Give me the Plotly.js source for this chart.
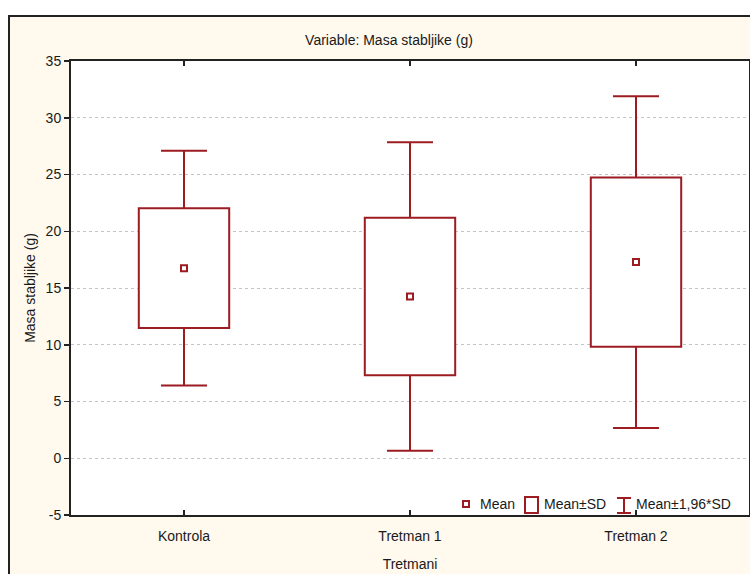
<!DOCTYPE html>
<html>
<head>
<meta charset="utf-8">
<script src="https://cdn.plot.ly/plotly-3.0.1.min.js"></script>
<style>
  html, body { margin: 0; padding: 0; background: #ffffff; width: 750px; height: 574px; overflow: hidden; }
  #frame { position: absolute; left: 8px; top: 15px; width: 760px; height: 580px;
           background: #fff9ee; border-left: 2px solid #222; border-top: 2px solid #222; }
  #chart { position: absolute; left: 0; top: 0; width: 750px; height: 574px; }
</style>
</head>
<body>
<div id="frame"></div>
<div id="chart"></div>
<script>
// ---- data ----
const categories = ["Kontrola", "Tretman 1", "Tretman 2"];
const means = [16.75, 14.25, 17.28];
const sds = [5.28, 6.93, 7.46];
const yTickVals = [-5, 0, 5, 10, 15, 20, 25, 30, 35];
const yTickText = ["-5", "0", "5", "10", "15", "20", "25", "30", "35"];
const legendLabels = ["Mean", "Mean\u00B1SD", "Mean\u00B11,96*SD"];
const chartTitle = "Variable: Masa stabljike (g)";
const yTitle = "Masa stabljike (g)";
const xTitle = "Tretmani";

// ---- styling ----
const RED = "#9c1c22";
const FONT = "Liberation Sans, Arial, sans-serif";
const TXT = "#1a1a1a";

const lo = means.map((m, i) => m - sds[i]);
const hi = means.map((m, i) => m + sds[i]);
const lo196 = means.map((m, i) => m - 1.96 * sds[i]);
const hi196 = means.map((m, i) => m + 1.96 * sds[i]);
const zeros = means.map(() => 0);

// box: Mean±SD as a floating bar
const boxTrace = {
  type: "bar",
  x: categories,
  base: lo,
  y: hi.map((h, i) => h - lo[i]),
  width: 0.4,
  marker: { color: "#ffffff", line: { color: RED, width: 2 } },
  hoverinfo: "skip",
  showlegend: false
};

// whisker stems: from box edges out to mean±1.96*SD
const stemX = categories.flatMap(c => [c, c, null, c, c, null]);
const stemY = categories.flatMap((c, i) => [hi[i], hi196[i], null, lo[i], lo196[i], null]);
const stemTrace = {
  type: "scatter",
  mode: "lines",
  x: stemX,
  y: stemY,
  line: { color: RED, width: 2 },
  connectgaps: false,
  hoverinfo: "skip",
  showlegend: false
};

// whisker caps (zero-length error bars drawn as caps)
const capStyle = { type: "data", array: zeros, color: RED, thickness: 2, width: 23 };
const upperCapTrace = {
  type: "scatter", mode: "markers", x: categories, y: hi196,
  marker: { size: 1, opacity: 0 }, error_y: capStyle,
  hoverinfo: "skip", showlegend: false
};
const lowerCapTrace = {
  type: "scatter", mode: "markers", x: categories, y: lo196,
  marker: { size: 1, opacity: 0 }, error_y: capStyle,
  hoverinfo: "skip", showlegend: false
};

const meanTrace = {
  type: "scatter",
  mode: "markers",
  x: categories,
  y: means,
  marker: { symbol: "square-open", size: 6, color: RED, line: { color: RED, width: 2 } },
  hoverinfo: "skip",
  showlegend: false
};

// plot area in pixels: left 71, right 749, top 61, bottom 515
const L = 71, R = 749, T = 61, B = 515;
const W = R - L, H = B - T;
const px = v => (v - L) / W;
const py = v => (B - v) / H;

const shapes = [
  // legend glyph: Mean
  { type: "rect", xref: "paper", yref: "paper", x0: px(463), x1: px(469), y0: py(507), y1: py(501),
    line: { color: RED, width: 2 }, fillcolor: "#ffffff", layer: "above" },
  // legend glyph: Mean±SD
  { type: "rect", xref: "paper", yref: "paper", x0: px(525), x1: px(538), y0: py(513), y1: py(497),
    line: { color: RED, width: 2 }, fillcolor: "#ffffff", layer: "above" },
  // legend glyph: Mean±1,96*SD (I-beam)
  { type: "path", xref: "paper", yref: "paper",
    path: `M ${px(617)} ${py(498)} L ${px(631)} ${py(498)} M ${px(624)} ${py(498)} L ${px(624)} ${py(513)} M ${px(617)} ${py(513)} L ${px(631)} ${py(513)}`,
    line: { color: RED, width: 2 }, layer: "above" }
];

const annFont = { family: FONT, size: 14, color: TXT };
const annotations = [
  { xref: "paper", yref: "paper", x: px(478), y: py(504), xanchor: "left", yanchor: "middle",
    text: legendLabels[0], showarrow: false, font: annFont },
  { xref: "paper", yref: "paper", x: px(542), y: py(504), xanchor: "left", yanchor: "middle",
    text: legendLabels[1], showarrow: false, font: annFont },
  { xref: "paper", yref: "paper", x: px(634), y: py(504), xanchor: "left", yanchor: "middle",
    text: legendLabels[2], showarrow: false, font: annFont }
];

const layout = {
  width: 750,
  height: 574,
  margin: { l: L, r: 750 - R, t: T, b: 574 - B, pad: 0 },
  paper_bgcolor: "rgba(0,0,0,0)",
  plot_bgcolor: "#ffffff",
  font: { family: FONT, size: 14, color: TXT },
  showlegend: false,
  barmode: "overlay",
  title: {
    text: chartTitle,
    font: { family: FONT, size: 14, color: TXT },
    xref: "paper", x: px(389), xanchor: "center",
    yref: "container", y: 1 - 40 / 574, yanchor: "middle"
  },
  xaxis: {
    type: "category",
    categoryorder: "array",
    categoryarray: categories,
    range: [-0.5, 2.5],
    showline: true, linecolor: "#222", linewidth: 2,
    mirror: "ticks",
    ticks: "inside", ticklen: 5, tickwidth: 1.5, tickcolor: "#222",
    ticklabelstandoff: 7,
    showgrid: false, zeroline: false,
    tickfont: { family: FONT, size: 14, color: TXT },
    title: { text: xTitle, font: { family: FONT, size: 14, color: TXT }, standoff: 16 },
    fixedrange: true
  },
  yaxis: {
    range: [-5, 35],
    tickmode: "array",
    tickvals: yTickVals,
    ticktext: yTickText,
    showline: true, linecolor: "#222", linewidth: 2,
    mirror: true,
    ticks: "outside", ticklen: 5, tickwidth: 1.5, tickcolor: "#222",
    showgrid: true, gridcolor: "#c4c4c4", griddash: "dot", gridwidth: 1,
    zeroline: false,
    tickfont: { family: FONT, size: 14, color: TXT },
    title: { text: yTitle, font: { family: FONT, size: 14, color: TXT }, standoff: 7 },
    fixedrange: true
  },
  shapes: shapes,
  annotations: annotations
};

Plotly.newPlot("chart", [boxTrace, stemTrace, upperCapTrace, lowerCapTrace, meanTrace], layout,
  { staticPlot: true, displayModeBar: false });
</script>
</body>
</html>
